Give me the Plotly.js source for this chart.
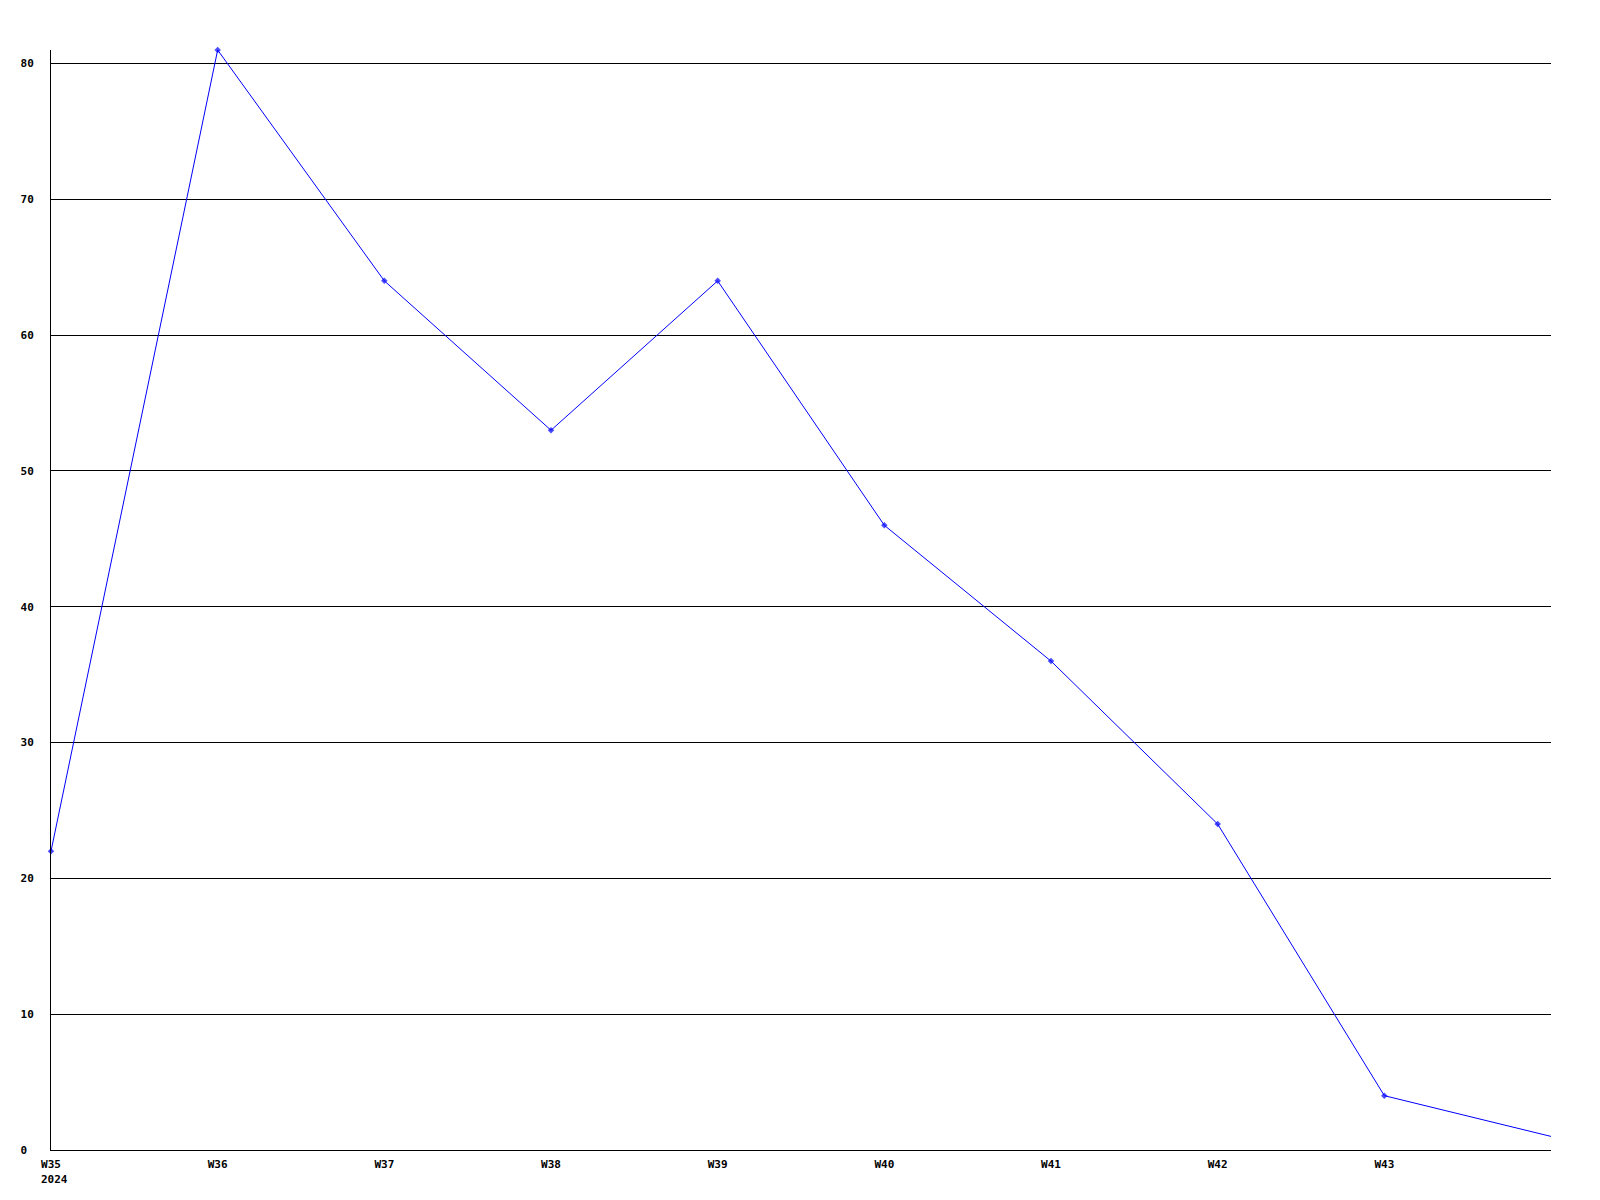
<!DOCTYPE html>
<html>
<head>
<meta charset="utf-8">
<script src="https://cdn.plot.ly/plotly-3.0.1.min.js"></script>
<style>html,body{margin:0;padding:0;background:#fff;}#chart{width:1600px;height:1200px;}</style>
</head>
<body>
<div id="chart"></div>
<script>
// Data
const weeks = ['W35', 'W36', 'W37', 'W38', 'W39', 'W40', 'W41', 'W42', 'W43', 'W44'];
const values = [22, 81, 64, 53, 64, 46, 36, 24, 4, 1];
const xTickLabels = ['W35', 'W36', 'W37', 'W38', 'W39', 'W40', 'W41', 'W42', 'W43'];
const yTickValues = [0, 10, 20, 30, 40, 50, 60, 70, 80];
const yearLabel = '2024';

const xPos = weeks.map((w, i) => i);
const markerSizes = weeks.map((w, i) => (i === weeks.length - 1 ? 0 : 5));
const fontSpec = {family: 'DejaVu Sans Mono, monospace', size: 11, color: '#000', weight: 'bold'};

const trace = {
  x: xPos,
  y: values,
  text: weeks,
  type: 'scatter',
  mode: 'lines+markers',
  line: {color: '#0000ff', width: 1},
  marker: {color: '#0000ff', size: markerSizes, symbol: 'diamond', line: {width: 0}},
  cliponaxis: false,
  hoverinfo: 'text+y'
};

const layout = {
  width: 1600,
  height: 1200,
  margin: {l: 51, r: 49, t: 50, b: 50, pad: 0},
  paper_bgcolor: '#ffffff',
  plot_bgcolor: '#ffffff',
  showlegend: false,
  font: fontSpec,
  xaxis: {
    range: [0, weeks.length - 1],
    tickmode: 'array',
    tickvals: xTickLabels.map((t, i) => i),
    ticktext: xTickLabels,
    showgrid: false,
    zeroline: false,
    showline: true,
    linecolor: '#000',
    linewidth: 1,
    ticks: '',
    ticklabelstandoff: 4,
    tickfont: fontSpec
  },
  yaxis: {
    range: [0, 81],
    tickmode: 'array',
    tickvals: yTickValues,
    ticktext: yTickValues.map(v => (String(v).length < 2 ? String(v) + '\u00a0' : String(v))),
    showgrid: true,
    gridcolor: '#000',
    gridwidth: 1,
    zeroline: false,
    showline: true,
    linecolor: '#000',
    linewidth: 1,
    ticks: '',
    ticklabelstandoff: 14,
    tickfont: fontSpec
  },
  annotations: [{
    text: yearLabel,
    x: 0, xref: 'x',
    y: 0, yref: 'paper',
    xanchor: 'left', yanchor: 'top',
    xshift: -12, yshift: -21,
    showarrow: false,
    font: fontSpec
  }]
};

Plotly.newPlot('chart', [trace], layout, {displayModeBar: false, staticPlot: true});
</script>
</body>
</html>
